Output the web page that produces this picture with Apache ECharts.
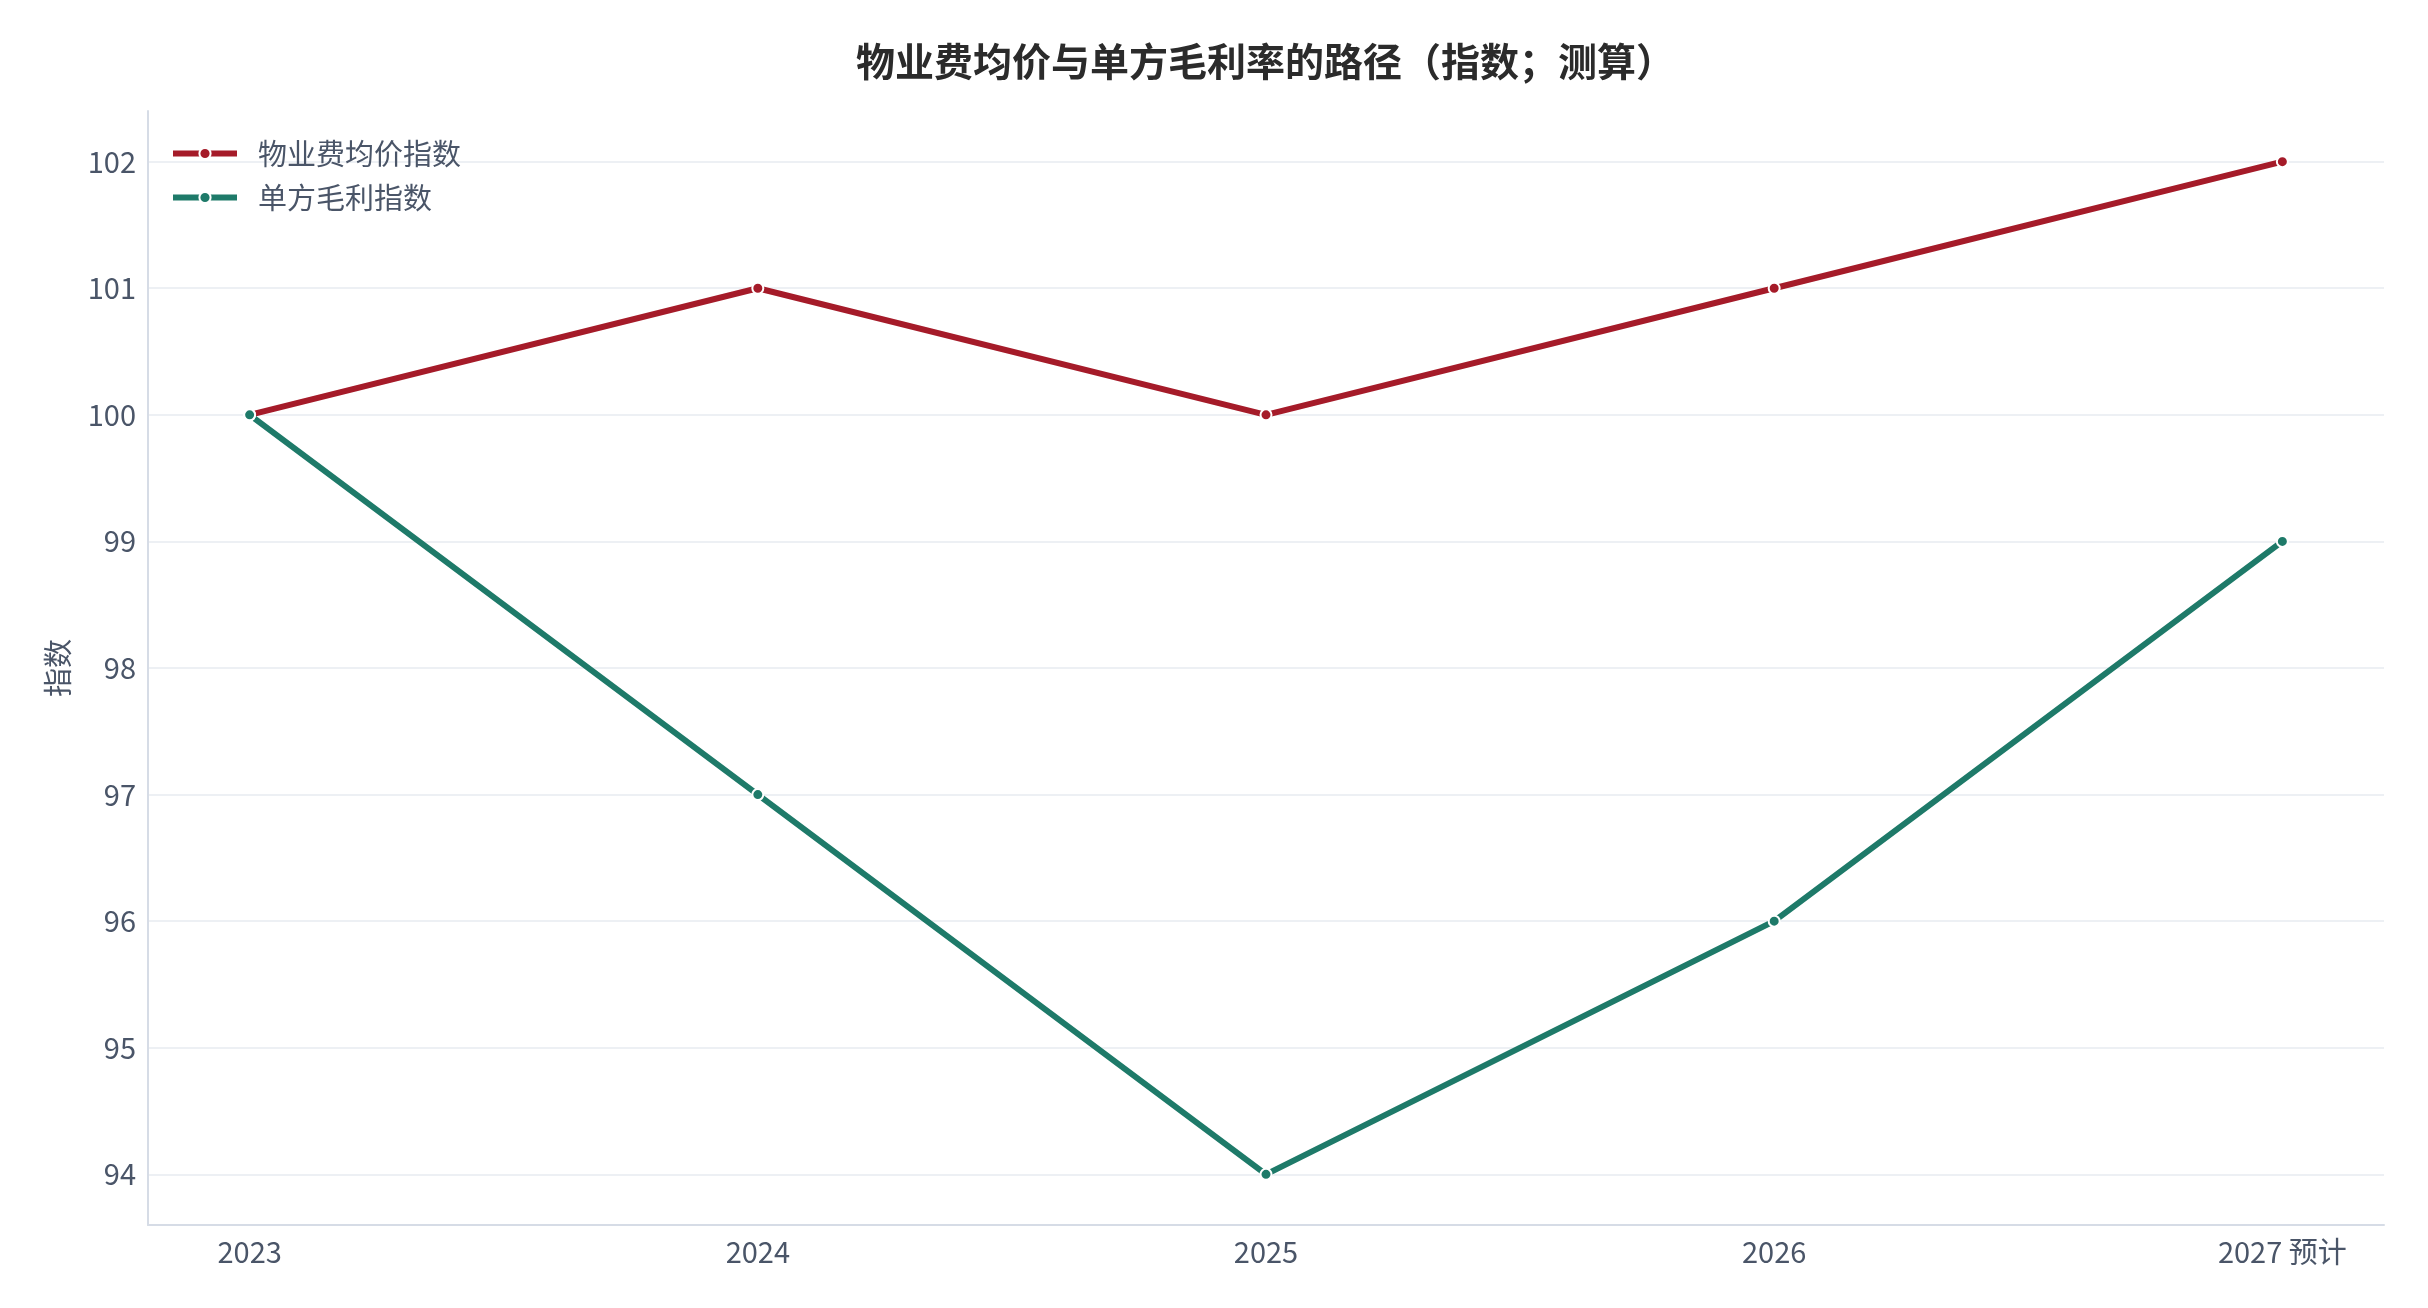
<!DOCTYPE html>
<html>
<head>
<meta charset="utf-8">
<title>物业费均价与单方毛利率的路径</title>
<script src="https://cdn.jsdelivr.net/npm/echarts@6/dist/echarts.min.js"></script>
<style>
    html, body { margin: 0; padding: 0; background: #fff; }
    #main { width: 2428px; height: 1308px; }
</style>
</head>
<body>
<div id="main"></div>
<script>
// 数据
var years = ['2023', '2024', '2025', '2026', '2027 预计'];
var priceIndex = [100, 101, 100, 101, 102];   // 物业费均价指数
var marginIndex = [100, 97, 94, 96, 99];      // 单方毛利指数
var yTicks = [94, 95, 96, 97, 98, 99, 100, 101, 102];

function toPoints(arr) {
    return arr.map(function (v, i) { return [i, v]; });
}

var myChart = echarts.init(document.getElementById('main'));
var font = '"Noto Sans CJK SC", "Noto Sans", sans-serif';
var labelColor = '#4a5568';

var option = {
    backgroundColor: '#fff',
    animation: false,
    textStyle: { fontFamily: font },
    title: {
        text: '物业费均价与单方毛利率的路径（指数；测算）',
        left: 851,
        top: 37,
        textStyle: { fontFamily: font, fontSize: 39, fontWeight: 'bold', color: '#2b2b2b' }
    },
    legend: {
        orient: 'vertical',
        left: 170,
        top: 139,
        padding: 0,
        itemWidth: 64,
        itemHeight: 14,
        itemGap: 15,
        lineStyle: { width: 6 },
        textStyle: { fontFamily: font, fontSize: 29, color: labelColor, padding: [0, 0, 0, 16] },
        data: ['物业费均价指数', '单方毛利指数']
    },
    grid: {
        left: 148,
        right: 44,
        top: 111,
        bottom: 83
    },
    xAxis: {
        type: 'value',
        min: -0.2,
        max: 4.2,
        axisLine: { show: true, onZero: false, lineStyle: { color: '#d6dce6', width: 2 } },
        axisTick: { show: false },
        splitLine: { show: false },
        axisLabel: {
            customValues: [0, 1, 2, 3, 4],
            margin: 12,
            fontSize: 29,
            fontFamily: font,
            color: labelColor,
            formatter: function (v) { return years[Math.round(v)]; }
        }
    },
    yAxis: {
        type: 'value',
        min: 93.6,
        max: 102.4,
        name: '指数',
        nameLocation: 'middle',
        nameGap: 76,
        nameTextStyle: { fontFamily: font, fontSize: 29, color: labelColor },
        axisLine: { show: true, onZero: false, lineStyle: { color: '#d6dce6', width: 2 } },
        axisTick: { show: false },
        axisLabel: {
            customValues: yTicks,
            margin: 12,
            fontSize: 29,
            fontFamily: font,
            color: labelColor
        },
        splitNumber: 9,
        splitLine: {
            show: true,
            showMinLine: false,
            showMaxLine: false,
            lineStyle: { color: '#edf0f4', width: 2 }
        }
    },
    series: [
        {
            name: '物业费均价指数',
            type: 'line',
            data: toPoints(priceIndex),
            symbol: 'circle',
            symbolSize: 11,
            color: '#a51b29',
            lineStyle: { width: 6, color: '#a51b29' },
            itemStyle: { color: '#a51b29', borderColor: '#fff', borderWidth: 2 }
        },
        {
            name: '单方毛利指数',
            type: 'line',
            data: toPoints(marginIndex),
            symbol: 'circle',
            symbolSize: 11,
            color: '#1e7a69',
            lineStyle: { width: 6, color: '#1e7a69' },
            itemStyle: { color: '#1e7a69', borderColor: '#fff', borderWidth: 2 }
        }
    ]
};

myChart.setOption(option);
</script>
</body>
</html>
